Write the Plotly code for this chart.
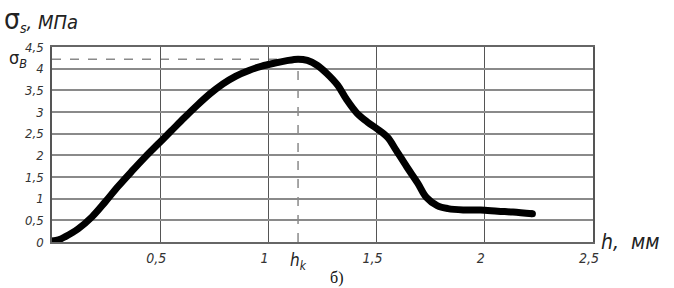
import plotly.graph_objects as go

# Data
h_mm = [0, 0.03, 0.06, 0.12, 0.185, 0.245, 0.305, 0.37, 0.43, 0.49, 0.55, 0.61, 0.67,
        0.73, 0.79, 0.85, 0.91, 0.97, 1.03, 1.08, 1.137, 1.18, 1.225, 1.27, 1.32, 1.36,
        1.41, 1.46, 1.50, 1.55, 1.59, 1.64, 1.69, 1.73, 1.78, 1.83, 1.90, 1.98, 2.06,
        2.13, 2.22]
sigma_s = [0.02, 0.05, 0.12, 0.30, 0.58, 0.92, 1.28, 1.64, 1.96, 2.26, 2.56, 2.86, 3.15,
           3.42, 3.65, 3.83, 3.96, 4.06, 4.13, 4.18, 4.22, 4.19, 4.08, 3.89, 3.62, 3.30,
           2.97, 2.76, 2.62, 2.42, 2.12, 1.73, 1.36, 1.03, 0.84, 0.77, 0.74, 0.74, 0.71,
           0.69, 0.65]

x_tickvals = [0.5, 1, 1.5, 2, 2.5]
x_ticktext = ["0,5", "1", "1,5", "2", "2,5"]
y_tickvals = [0, 0.5, 1, 1.5, 2, 2.5, 3, 3.5, 4, 4.5]
y_ticktext = ["0", "0,5", "1", "1,5", "2", "2,5", "3", "3,5", "4", "4,5"]

# Peak (ultimate strength) derived from the data
i_peak = max(range(len(sigma_s)), key=lambda i: sigma_s[i])
h_k = h_mm[i_peak]
sigma_B = sigma_s[i_peak]

FONT = "Liberation Sans Narrow, DejaVu Sans Condensed, Liberation Sans, sans-serif"

fig = go.Figure()
fig.add_trace(go.Scatter(
    x=h_mm, y=sigma_s, mode="lines",
    line=dict(color="black", width=7, shape="spline", smoothing=1.0),
    hoverinfo="skip", showlegend=False,
))
fig.add_trace(go.Scatter(
    x=[h_mm[0], h_mm[-1]], y=[sigma_s[0], sigma_s[-1]], mode="markers",
    marker=dict(color="black", size=7), hoverinfo="skip", showlegend=False,
))

# Dashed reference lines to the peak
fig.add_shape(type="line", x0=0, x1=h_k, y0=sigma_B, y1=sigma_B, xref="x", yref="y",
              line=dict(color="#8a8a8a", width=1.5, dash="dash"), layer="below")
fig.add_shape(type="line", x0=h_k, x1=h_k, y0=0, y1=sigma_B, xref="x", yref="y",
              line=dict(color="#8a8a8a", width=1.5, dash="dash"), layer="below")

fig.update_layout(
    width=674, height=288,
    margin=dict(l=52, r=81, t=47, b=46),
    paper_bgcolor="white", plot_bgcolor="white",
    font=dict(family=FONT, color="#222"),
    xaxis=dict(
        range=[0, 2.5], tickvals=x_tickvals, ticktext=x_ticktext,
        showgrid=True, gridcolor="#555", gridwidth=1,
        showline=True, linecolor="#666", linewidth=1.5, mirror=True,
        zeroline=False, ticks="", ticklabelshift=-4, ticklabelstandoff=2,
        tickfont=dict(size=14, style="italic", color="#333", family=FONT),
        fixedrange=True,
    ),
    yaxis=dict(
        range=[0, 4.5], tickvals=y_tickvals, ticktext=y_ticktext,
        showgrid=True, gridcolor="#8a8a8a", gridwidth=1.5,
        showline=True, linecolor="#555", linewidth=1.5, mirror=True,
        zeroline=False, ticks="", ticklabelstandoff=4,
        tickfont=dict(size=13, style="italic", color="#333", family=FONT),
        fixedrange=True,
    ),
)

annotations = [
    dict(x=0, y=1, xref="paper", yref="paper", xshift=-50, yshift=46,
         xanchor="left", yanchor="top", showarrow=False,
         text="<span style='font-size:28px'>σ</span><sub><i>s</i></sub><i>, МПа</i>",
         font=dict(size=20, color="#222", family=FONT)),
    dict(x=0, y=sigma_B, xref="paper", yref="y", xshift=-45, xanchor="left",
         yanchor="middle", showarrow=False,
         text="σ<sub><i>B</i></sub>",
         font=dict(size=18, color="#222", family=FONT)),
    dict(x=h_k, y=0, xref="x", yref="y", yshift=-6, xanchor="center", yanchor="top",
         showarrow=False, text="<i>h<sub>k</sub></i>",
         font=dict(size=17, color="#222", family=FONT)),
    dict(x=1, y=0, xref="paper", yref="paper", xshift=6, xanchor="left",
         yanchor="middle", showarrow=False, text="<i>h,  мм</i>",
         font=dict(size=21, color="#222", family=FONT)),
    dict(x=0.5, y=0, xref="paper", yref="paper", xshift=14, yshift=-25,
         xanchor="center", yanchor="top", showarrow=False, text="б)",
         font=dict(size=16, color="#111", family="Liberation Serif, DejaVu Serif, serif")),
]
fig.update_layout(annotations=annotations)

fig.write_html("out.html", config={"displayModeBar": False},
               post_script="document.body.style.margin='0';document.body.style.overflow='hidden';")
